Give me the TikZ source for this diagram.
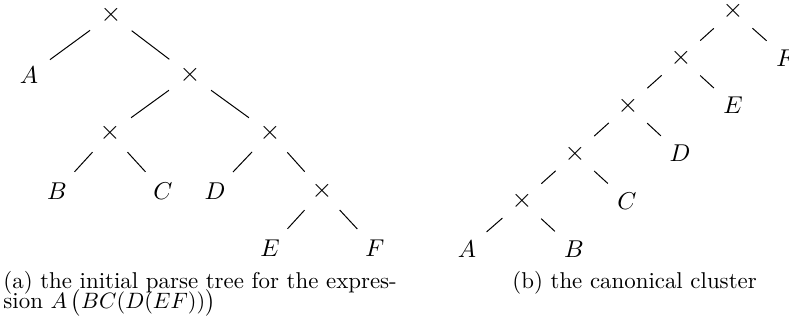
\documentclass[tikz,border=0pt]{standalone}
\usepackage{amsmath}
\usetikzlibrary{positioning}

\begin{document}
\begin{tikzpicture}[
  x=0.45pt, y=-0.45pt,
  font=\fontsize{10.3}{12}\selectfont,
  op/.style={inner sep=0pt, anchor=center, font=\fontsize{12.5}{14}\selectfont},
  leaf/.style={inner sep=0pt, anchor=center, font=\fontsize{10.8}{13}\selectfont},
  edge/.style={line width=0.45pt, shorten <=11.7pt, shorten >=11.7pt},
  capt/.style={inner sep=0pt, anchor=base west},
]

% frame of the whole figure (reference size in px)
\useasboundingbox (0,0) rectangle (789,331);

% ---- geometry: row heights ----
\def\pya{15}    % parse tree levels
\def\pyb{75}
\def\pyc{133}
\def\pyd{191}
\def\pye{248}
\def\cya{11}    % cluster levels
\def\cyb{58}
\def\cyc{105.5}
\def\cyd{153.5}
\def\cye{201}
\def\cyf{249}

% =====================================================
% (a) INITIAL PARSE TREE
% =====================================================
\node[op]   (p0) at (111,\pya) {$\times$};
\node[leaf] (pA) at (29,\pyb)  {$A$};
\node[op]   (p1) at (190,\pyb) {$\times$};
\node[op]   (p2) at (110,\pyc) {$\times$};
\node[op]   (p3) at (270,\pyc) {$\times$};
\node[leaf] (pB) at (57,\pyd)  {$B$};
\node[leaf] (pC) at (163,\pyd) {$C$};
\node[leaf] (pD) at (215,\pyd) {$D$};
\node[op]   (p4) at (322,\pyd) {$\times$};
\node[leaf] (pE) at (270,\pye) {$E$};
\node[leaf] (pF) at (375,\pye) {$F$};

\foreach \u/\v in {p0/pA, p0/p1, p1/p2, p1/p3, p2/pB, p2/pC,
                   p3/pD, p3/p4, p4/pE, p4/pF}
  \draw[edge] (\u.center) -- (\v.center);

% =====================================================
% (b) CANONICAL CLUSTER (left comb)
% =====================================================
\node[op]   (c1) at (733,\cya) {$\times$};
\node[op]   (c2) at (681,\cyb) {$\times$};
\node[leaf] (cF) at (786,\cyb) {$F$};
\node[op]   (c3) at (628,\cyc) {$\times$};
\node[leaf] (cE) at (733,\cyc) {$E$};
\node[op]   (c4) at (575,\cyd) {$\times$};
\node[leaf] (cD) at (680,\cyd) {$D$};
\node[op]   (c5) at (522,\cye) {$\times$};
\node[leaf] (cC) at (627,\cye) {$C$};
\node[leaf] (cA) at (467,\cyf) {$A$};
\node[leaf] (cB) at (574,\cyf) {$B$};

\foreach \u/\v in {c1/c2, c1/cF, c2/c3, c2/cE, c3/c4, c3/cD,
                   c4/c5, c4/cC, c5/cA, c5/cB}
  \draw[edge] (\u.center) -- (\v.center);

% ---- captions ----
\node[capt, text depth=0pt] (capa) at (3,288.5)
  {(a) the initial parse tree for the expres-};
\node[capt, text height=6.8pt] (capa2) at (3,308.5)
  {sion $A\,\bigl(BC(D(EF))\bigr)$};
\node[capt] (capb) at (512,288.5) {(b) the canonical cluster};

\end{tikzpicture}
\end{document}
